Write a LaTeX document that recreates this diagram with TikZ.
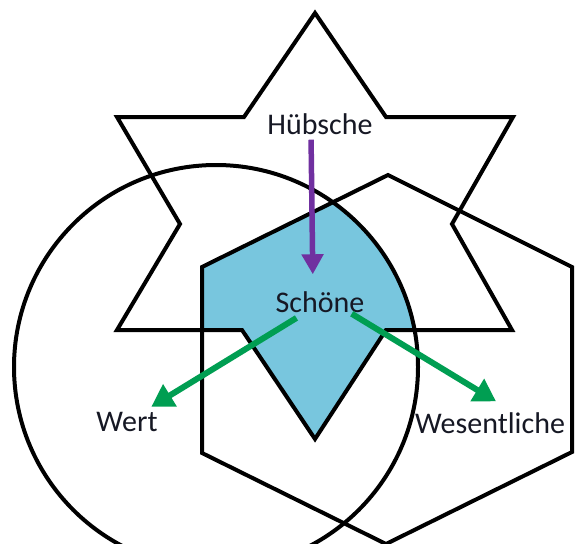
\documentclass[tikz,border=0pt]{standalone}
\usepackage{fontspec}
\setmainfont{Carlito}
\usetikzlibrary{arrows.meta}

\definecolor{schoenblau}{RGB}{120,198,222}
\definecolor{pfeilgruen}{RGB}{0,158,82}
\definecolor{pfeillila}{RGB}{112,48,160}
\definecolor{schrift}{RGB}{22,24,36}

\begin{document}
\begin{tikzpicture}[x=1pt, y=-1pt,
    umriss/.style={line width=4pt, line join=miter},
    wort/.style={font=\fontsize{30}{35}\selectfont, text=schrift, inner sep=0pt},
    lilapfeil/.style={draw=pfeillila, line width=5.5pt, -{Triangle[length=20pt,width=21pt]}},
    gruenpfeil/.style={draw=pfeilgruen, line width=6pt, -{Triangle[length=22pt,width=25pt]}}]
    \useasboundingbox (0,0) rectangle (575,543);

    % Schnittmenge von Stern, Kreis und Sechseck
    \begin{scope}
        \clip (315,13) -- (386,117) -- (513,117) -- (452,224) -- (512,330) -- (386,330)
            -- (315,439) -- (242,330) -- (117,330) -- (180,224) -- (117,117) -- (244,117) -- cycle;
        \clip (216,367) circle[radius=202pt];
        \fill[schoenblau] (388,175) -- (572,267) -- (572,452) -- (386,544) -- (202,453) -- (202,267) -- cycle;
    \end{scope}

    % Stern
    \draw[umriss] (315,13) -- (386,117) -- (513,117) -- (452,224) -- (512,330) -- (386,330)
        -- (315,439) -- (242,330) -- (117,330) -- (180,224) -- (117,117) -- (244,117) -- cycle;
    % Kreis
    \draw[umriss] (216,367) circle[radius=202pt];
    % Sechseck
    \draw[umriss] (388,175) -- (572,267) -- (572,452) -- (386,544) -- (202,453) -- (202,267) -- cycle;

    % Begriffe
    \node[wort] (hubsche)     at (320,124) {Hübsche};
    \node[wort] (schone)      at (320,302) {Schöne};
    \node[wort] (wert)        at (127,422) {Wert};
    \node[wort] (wesentliche) at (490,423) {Wesentliche};

    % Pfeile
    \draw[lilapfeil, shorten <=5pt, shorten >=17pt]
        ([xshift=-9pt]hubsche.south) -- ([xshift=-7pt]schone.north);
    \draw[gruenpfeil, shorten <=10pt, shorten >=10pt]
        ([xshift=-15pt]schone.south) -- ([xshift=-15pt]wert.north east);
    \draw[gruenpfeil, shorten <=2pt, shorten >=21pt]
        ([xshift=30pt]schone.south) -- ([xshift=24pt]wesentliche.north);
\end{tikzpicture}
\end{document}
